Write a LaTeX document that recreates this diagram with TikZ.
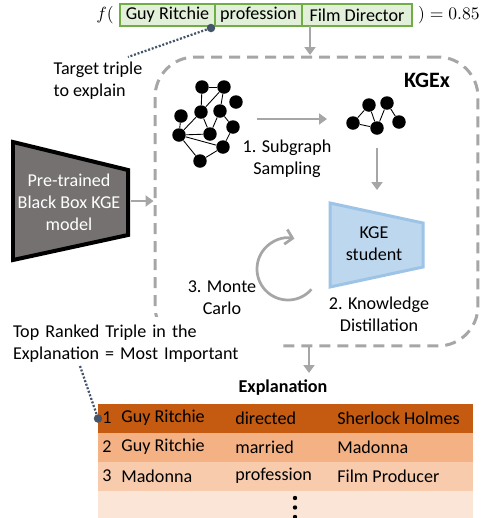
\documentclass[tikz,border=0pt]{standalone}
\usepackage{fontspec}
\setmainfont{Carlito}
\usetikzlibrary{arrows.meta, positioning}

\definecolor{arrgrey}{HTML}{A6A6A6}
\definecolor{dotblue}{HTML}{44546A}
\definecolor{cellgreen}{HTML}{70AD47}
\definecolor{cellfill}{HTML}{E2F0D9}
\definecolor{boxgrey}{HTML}{767171}
\definecolor{stublue}{HTML}{9DC3E6}
\definecolor{stufill}{HTML}{BDD7EE}
\definecolor{rowa}{HTML}{C55A11}
\definecolor{rowb}{HTML}{F4B183}
\definecolor{rowc}{HTML}{F8CBAD}
\definecolor{rowd}{HTML}{FBE5D6}

\begin{document}
\begin{tikzpicture}[x=0.02cm, y=-0.02cm, font=\fontsize{10.3}{12.4}\selectfont,
    garrow/.style={draw=arrgrey, line width=0.055cm, -{Triangle[width=0.22cm, length=0.16cm]}},
    carrow/.style={draw=arrgrey, line width=0.055cm, -{Straight Barb[width=0.3cm, length=0.14cm]}},
    gnode/.style={circle, fill=black, inner sep=0pt, minimum size=0.27cm},
    tcell/.style={draw=cellgreen, fill=cellfill, line width=0.035cm, minimum height=0.44cm, inner sep=0pt, outer sep=0pt},
    bluedot/.style={circle, fill=dotblue, inner sep=0pt, minimum size=0.17cm},
    dotline/.style={draw=dotblue, line width=0.045cm, dash pattern=on 0.04cm off 0.035cm},
    rowbox/.style={minimum width=7.5cm, minimum height=0.58cm, inner sep=0pt, outer sep=0pt},
    entry/.style={anchor=west, inner sep=0pt}]
\useasboundingbox (0,0) rectangle (481,518);

% triple to explain
\node[tcell, minimum width=1.9cm] (c1) at (167.5,15) {Guy Ritchie};
\node[tcell, minimum width=1.74cm, right=0pt of c1] (c2) {profession};
\node[tcell, minimum width=2.2cm, right=0pt of c2] (c3) {Film Director};
\node[anchor=east] (fopen) at (c1.west) {$f($};
\node[anchor=west] (fclose) at (c3.east) {$)=0.85$};
\node[bluedot] (tdot) at (211,28) {};
\node[align=left] (target) at (98,81) {Target triple\\to explain};
\coordinate (tend) at (128,57);
\draw[dotline] (tdot) -- (tend);

% KGEx frame
\node[draw=arrgrey, line width=0.06cm, dash pattern=on 0.22cm off 0.14cm,
      rounded corners=0.8cm, minimum width=6.46cm, minimum height=5.78cm,
      inner sep=0pt] (kgebox) at (316.5,201.5) {};
\node[font=\bfseries\fontsize{12.5}{15}\selectfont] (kgex) at (427,80) {KGEx};
\coordinate (tin) at (310,55);
\draw[garrow] (tin |- c3.south) -- (tin);

% black box model
\draw[line width=0.08cm, fill=boxgrey] (13,142) -- (128,170) -- (128,235) -- (13,260) -- cycle;
\node[text=white, align=center] (bb) at (69,202) {Pre-trained\\Black Box KGE\\model};
\coordinate (bbr) at (131,201);
\draw[garrow] (bbr) -- (bbr -| kgebox.west);

% label that hides the lower left corner
\node[fill=white, text width=5.28cm, align=left, minimum height=1.1cm, inner xsep=0.1cm] (topr) at (145,344)
  {Top Ranked Triple in the\\Explanation = Most Important};

% 1. subgraph sampling
\foreach \n/\x/\y in {a/202/87, b/224/87, c/236/102, d/181/116, e/201/112, f/220/111,
                      g/179/135, h/210/134, i/233/127, j/223/147, k/200/161}
  \node[gnode] (g\n) at (\x,\y) {};
\foreach \u/\v in {a/b, a/e, b/e, b/f, f/h, f/i, d/g, e/g, e/h, g/h, g/j, g/k, i/j, j/k}
  \draw[line width=0.5pt] (g\u) -- (g\v);
\foreach \n/\x/\y in {a/353/123, b/369/105, c/377/128, d/387/103, e/399/122}
  \node[gnode] (s\n) at (\x,\y) {};
\foreach \u/\v in {a/b, a/c, b/c, c/d, d/e}
  \draw[line width=0.5pt] (s\u) -- (s\v);
\coordinate (sgfrom) at (257,119);
\coordinate (sgto) at (327,119);
\draw[garrow] (sgfrom) -- (sgto);
\node[align=center] (samp) at (287,159) {1. Subgraph\\Sampling};

% 2. knowledge distillation
\draw[line width=0.06cm, draw=stublue, fill=stufill] (330,203) -- (423,223) -- (423,267) -- (330,287) -- cycle;
\node[align=center] (stu) at (374,244) {KGE\\student};
\coordinate (sdfrom) at (377,148);
\coordinate (sdto) at (377,190);
\draw[garrow] (sdfrom) -- (sdto);
\node[align=center] (kd) at (379,314) {2. Knowledge\\Distillation};

% 3. monte carlo
\coordinate (mc) at (288,269);
\draw[carrow] (mc) ++(41:31) arc[start angle=41, end angle=282, radius=31];
\node[align=center] (mcl) at (222,298) {3. Monte\\Carlo};

% explanation
\coordinate (tout) at (309,373);
\draw[garrow] (tout |- kgebox.south) -- (tout);
\node[font=\bfseries\fontsize{10.3}{12.4}\selectfont] (expl) at (283,388) {Explanation};
\foreach \i/\c in {1/rowa, 2/rowb, 3/rowc, 4/rowd}
  \node[rowbox, fill=\c, anchor=north west] (row\i) at (98,{404+29*(\i-1)}) {};
\foreach \i/\s/\r/\o in {1/Guy Ritchie/directed/Sherlock Holmes,
                         2/Guy Ritchie/married/Madonna,
                         3/Madonna/profession/Film Producer} {
  \node (num\i) at (107,{389+29*\i}) {\i};
  \node[entry] (sub\i) at (121,{389+29*\i}) {\s};
  \node[entry] (rel\i) at (235,{389+29*\i}) {\r};
  \node[entry] (obj\i) at (337,{389+29*\i}) {\o};
}
\foreach \y in {498,507.5,517}
  \fill (295,\y) circle (2.2);
\node[bluedot] (rdot) at (row1.west) {};
\coordinate (trs) at (80,366);
\draw[dotline] (trs) -- (rdot);
\end{tikzpicture}
\end{document}
